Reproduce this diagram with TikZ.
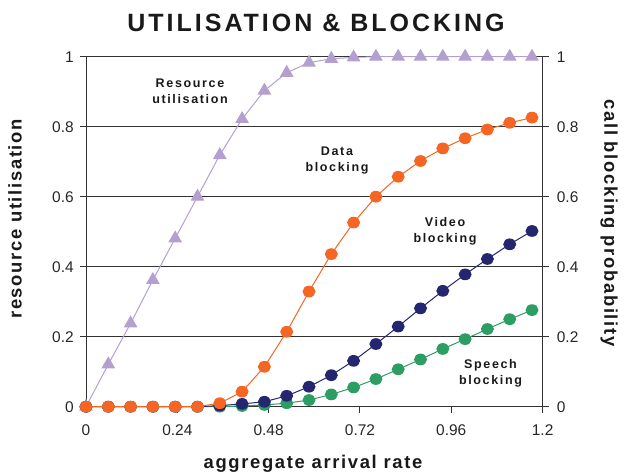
\documentclass[tikz,border=0pt]{standalone}
\usepackage{fontspec}
\usetikzlibrary{plotmarks}
\setmainfont{Liberation Sans}
\newfontfamily\titlefont{Liberation Sans}[LetterSpace=12]
\newfontfamily\axisfont{Liberation Sans}[LetterSpace=9]
\newfontfamily\notefont{Liberation Sans}[LetterSpace=13]

\definecolor{util}{RGB}{180,160,208}
\definecolor{datab}{RGB}{245,102,36}
\definecolor{video}{RGB}{36,38,112}
\definecolor{speech}{RGB}{44,158,100}

\tikzset{
  gridline/.style={black!80, line width=0.75pt},
  ticklab/.style={inner sep=0pt, font=\fontsize{11.6}{14}\selectfont, text=black!85},
  axislab/.style={inner sep=0pt, font=\axisfont\bfseries\fontsize{13.8}{16}\selectfont, text=black!90},
  note/.style={align=center, inner sep=0pt, font=\notefont\bfseries\fontsize{9.4}{12}\selectfont, text=black!90},
  curve/.style={line width=0.75pt, #1, mark options={fill=#1, draw=none}},
  dots/.style={mark=*, mark size=4pt, mark options={xscale=1.12}},
}

\begin{document}
\begin{tikzpicture}[x=0.75pt, y=0.75pt]
        \useasboundingbox (0,0) rectangle (624,473);

        \node[anchor=base, inner sep=0pt, font=\titlefont\bfseries\fontsize{18.75}{22}\selectfont, text=black!90] (title) at (316,441) {UTILISATION \& BLOCKING};

        % axes, grid and tick labels in data units
        \begin{scope}[shift={(86,66.3)}, x=285.375pt, y=262.5pt]
            \foreach \y/\lab in {0.2/0.2, 0.4/0.4, 0.6/0.6, 0.8/0.8, 1/1}
                \draw[gridline] (0,\y) -- (1.2,\y);
            \foreach \y/\lab in {0/0, 0.2/0.2, 0.4/0.4, 0.6/0.6, 0.8/0.8, 1/1} {
                \draw[gridline] (0,\y) -- ++(-4.5pt,0);
                \draw[gridline] (1.2,\y) -- ++(4.5pt,0);
                \node[ticklab, anchor=east] (yl\lab) at ([xshift=-9pt]0,\y) {\lab};
                \node[ticklab, anchor=west] (yr\lab) at ([xshift=10.5pt]1.2,\y) {\lab};
            }
            \foreach \x in {0, 0.24, 0.48, 0.72, 0.96, 1.2} {
                \draw[gridline] (\x,0) -- ++(0,-4.5pt);
                \node[ticklab, anchor=north] (xl\x) at ([yshift=-13.5pt]\x,0) {\x};
            }
            \draw[gridline] (0,1) -- (0,0) -- (1.2,0) -- (1.2,1);
        \end{scope}

        % one unit in x is one sample step
        \begin{scope}[shift={(86,66.3)}, x=16.725pt, y=262.5pt]
            \draw[curve=util] plot[mark=triangle*, mark size=5.2pt] coordinates {
                (0,0) (1,.121) (2,.238) (3,.362) (4,.481) (5,.600) (6,.719) (7,.822) (8,.903) (9,.954) (10,.983)
                (11,.994) (12,.998) (13,1) (14,1) (15,1) (16,1) (17,1) (18,1) (19,1) (20,1)};
            \draw[curve=speech] plot[dots] coordinates {
                (0,0) (1,0) (2,0) (3,0) (4,0) (5,0) (6,0) (7,.002) (8,.005) (9,.010) (10,.019)
                (11,.035) (12,.055) (13,.079) (14,.107) (15,.135) (16,.165) (17,.193) (18,.222) (19,.250) (20,.276)};
            \draw[curve=video] plot[dots] coordinates {
                (0,0) (1,0) (2,0) (3,0) (4,0) (5,0) (6,.003) (7,.008) (8,.014) (9,.031) (10,.057)
                (11,.090) (12,.131) (13,.179) (14,.229) (15,.281) (16,.331) (17,.378) (18,.422) (19,.464) (20,.502)};
            \draw[curve=datab] plot[dots] coordinates {
                (0,0) (1,0) (2,0) (3,0) (4,0) (5,0) (6,.010) (7,.043) (8,.114) (9,.214) (10,.329)
                (11,.436) (12,.526) (13,.600) (14,.657) (15,.702) (16,.738) (17,.767) (18,.792) (19,.811) (20,.826)};
        \end{scope}

        \node[note] (utilnote) at (190,381.7) {Resource\\utilisation};
        \node[note] (datanote) at (337,312) {Data\\blocking};
        \node[note] (videonote) at (445,242) {Video\\blocking};
        \node[note] (speechnote) at (490.5,99.7) {Speech\\blocking};

        \node[axislab, anchor=base] (xtitle) at (313,4.4) {aggregate arrival rate};
        \node[axislab, rotate=90] (ytitle) at (15,254) {resource utilisation};
        \node[axislab, rotate=-90] (y2title) at (609,250) {call blocking probability};
    \end{tikzpicture}
\end{document}
